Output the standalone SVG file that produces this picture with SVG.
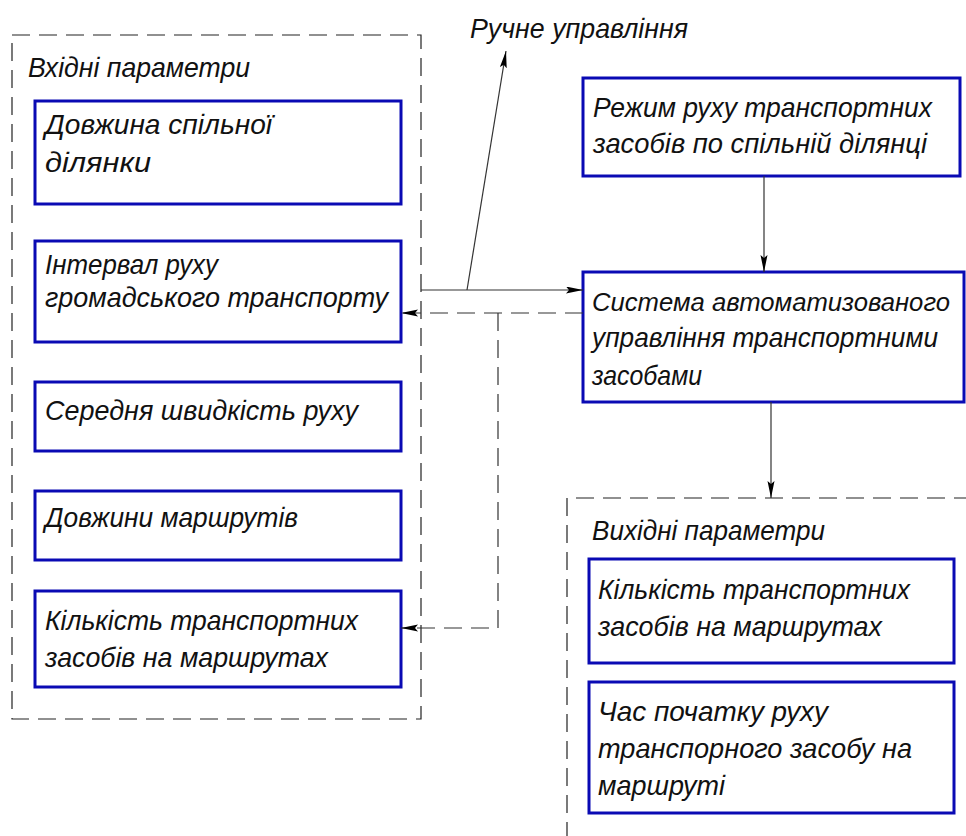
<svg xmlns="http://www.w3.org/2000/svg" width="966" height="836" viewBox="0 0 966 836">
<style>
.t{font-family:"Liberation Sans","DejaVu Sans",sans-serif;font-style:italic;font-size:28px;fill:#111}
.box{fill:#fff;stroke:#0a0ab4;stroke-width:3}
.frame{fill:none;stroke:#222;stroke-width:1.2;stroke-dasharray:18 9}
.c{fill:none;stroke:#333;stroke-width:1.2}
.cd{fill:none;stroke:#333;stroke-width:1.2;stroke-dasharray:18 9}
</style>
<defs>
<marker id="ah" markerUnits="userSpaceOnUse" markerWidth="18" markerHeight="8" refX="17" refY="3.5" orient="auto">
<path d="M0,0 L17,3.5 L0,7 L3,3.5 z" fill="#000"/>
</marker>
</defs>
<rect width="966" height="836" fill="#fff"/>

<g id="input-frame">
<rect class="frame" x="12" y="35" width="409" height="684"/>
<text class="t" x="28" y="77" textLength="222" lengthAdjust="spacingAndGlyphs">Вхідні параметри</text>
</g>

<g id="output-frame">
<path class="frame" d="M567,840 V498 H970"/>
<text class="t" x="592" y="540" textLength="233" lengthAdjust="spacingAndGlyphs">Вихідні параметри</text>
</g>

<g id="n-dovzhyna">
<rect class="box" x="35" y="101" width="366" height="103"/>
<text class="t" x="45" y="134" textLength="227" lengthAdjust="spacingAndGlyphs">Довжина спільної</text>
<text class="t" x="45" y="172" textLength="106" lengthAdjust="spacingAndGlyphs">ділянки</text>
</g>

<g id="n-interval">
<rect class="box" x="35" y="241" width="366" height="101"/>
<text class="t" x="45" y="274" textLength="173" lengthAdjust="spacingAndGlyphs">Інтервал руху</text>
<text class="t" x="45" y="307" textLength="343" lengthAdjust="spacingAndGlyphs">громадського транспорту</text>
</g>

<g id="n-shvydkist">
<rect class="box" x="35" y="382" width="366" height="69"/>
<text class="t" x="45" y="420" textLength="313" lengthAdjust="spacingAndGlyphs">Середня швидкість руху</text>
</g>

<g id="n-dovzhyny">
<rect class="box" x="35" y="491" width="366" height="69"/>
<text class="t" x="45" y="527" textLength="253" lengthAdjust="spacingAndGlyphs">Довжини маршрутів</text>
</g>

<g id="n-kilkist-in">
<rect class="box" x="35" y="591" width="366" height="96"/>
<text class="t" x="45" y="630" textLength="313" lengthAdjust="spacingAndGlyphs">Кількість транспортних</text>
<text class="t" x="45" y="667" textLength="283" lengthAdjust="spacingAndGlyphs">засобів на маршрутах</text>
</g>

<g id="n-rezhym">
<rect class="box" x="583" y="78" width="377" height="98"/>
<text class="t" x="593" y="117" textLength="339" lengthAdjust="spacingAndGlyphs">Режим руху транспортних</text>
<text class="t" x="593" y="153" textLength="334" lengthAdjust="spacingAndGlyphs">засобів по спільній ділянці</text>
</g>

<g id="n-systema">
<rect class="box" x="583" y="272" width="381" height="130"/>
<text class="t" x="592" y="311" style="font-size:26px" textLength="358" lengthAdjust="spacingAndGlyphs">Система автоматизованого</text>
<text class="t" x="592" y="347" textLength="346" lengthAdjust="spacingAndGlyphs">управління транспортними</text>
<text class="t" x="592" y="385" textLength="110" lengthAdjust="spacingAndGlyphs">засобами</text>
</g>

<g id="n-kilkist-out">
<rect class="box" x="589" y="559" width="365" height="104"/>
<text class="t" x="598" y="599" textLength="312" lengthAdjust="spacingAndGlyphs">Кількість транспортних</text>
<text class="t" x="598" y="636" textLength="284" lengthAdjust="spacingAndGlyphs">засобів на маршрутах</text>
</g>

<g id="n-chas">
<rect class="box" x="589" y="682" width="365" height="131"/>
<text class="t" x="598" y="721" textLength="230" lengthAdjust="spacingAndGlyphs">Час початку руху</text>
<text class="t" x="598" y="758" textLength="314" lengthAdjust="spacingAndGlyphs">транспорного засобу на</text>
<text class="t" x="598" y="795" textLength="127" lengthAdjust="spacingAndGlyphs">маршруті</text>
</g>

<g id="l-ruchne">
<text class="t" x="470" y="38" textLength="218" lengthAdjust="spacingAndGlyphs">Ручне управління</text>
</g>

<g id="connectors">
<line class="c" x1="421" y1="290" x2="583" y2="290" marker-end="url(#ah)"/>
<line class="c" x1="467" y1="290" x2="506" y2="51" marker-end="url(#ah)"/>
<line class="c" x1="764" y1="176" x2="764" y2="272" marker-end="url(#ah)"/>
<line class="c" x1="771" y1="402" x2="771" y2="498" marker-end="url(#ah)"/>
<path class="cd" d="M583,313 H401" marker-end="url(#ah)"/>
<path class="cd" d="M498,313 V628 H401" marker-end="url(#ah)"/>
</g>
</svg>
